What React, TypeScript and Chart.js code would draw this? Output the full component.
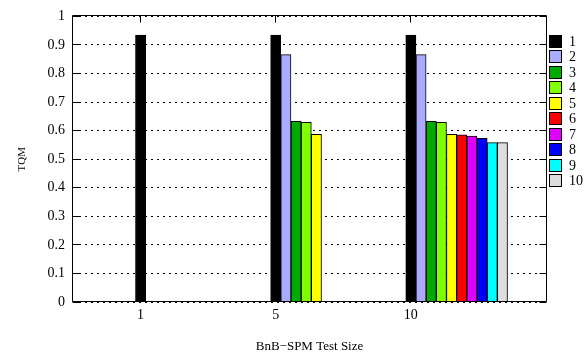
import React, { useEffect, useRef } from "react";
import { Chart, registerables } from "chart.js";

Chart.register(...registerables);

const CATEGORIES = ["1", "5", "10"];
const SERIES_LABELS = ["1", "2", "3", "4", "5", "6", "7", "8", "9", "10"];
const S1 = [0.935, 0.935, 0.935];
const S2 = [null, 0.866, 0.866];
const S3 = [null, 0.633, 0.633];
const S4 = [null, 0.629, 0.629];
const S5 = [null, 0.587, 0.587];
const S6 = [null, null, 0.585];
const S7 = [null, null, 0.581];
const S8 = [null, null, 0.573];
const S9 = [null, null, 0.558];
const S10 = [null, null, 0.558];
const SERIES = [S1, S2, S3, S4, S5, S6, S7, S8, S9, S10];
const Y_TICKS = [0, 0.1, 0.2, 0.3, 0.4, 0.5, 0.6, 0.7, 0.8, 0.9, 1];
const X_TITLE = "BnB\u2212SPM Test Size";
const Y_TITLE = "TQM";
const COLORS = [
  "#000000",
  "#aaaaff",
  "#00aa00",
  "#7fff00",
  "#ffff00",
  "#ff0000",
  "#dd00ff",
  "#0000ff",
  "#00ffff",
  "#dddddd",
];

const FONT_FAMILY = "'Liberation Serif', 'Times New Roman', serif";
const BAR_STEP = 0.0753; // horizontal step between bars within a group (axis units)

const align = (p: number) => Math.round(p - 0.5) + 0.5;

const framePlugin = {
  id: "gnuFrame",
  afterDatasetsDraw(chart: any) {
    const { ctx, chartArea: a, scales } = chart;
    const x = scales.x;
    const y = scales.y;
    const x0 = align(a.left) - 1;
    const x1 = align(a.right);
    const y0 = align(a.top) - 1;
    const y1 = align(a.bottom) - 1;
    ctx.save();
    ctx.strokeStyle = "#000";
    ctx.lineWidth = 1;
    ctx.setLineDash([]);
    ctx.beginPath();
    ctx.rect(x0, y0, x1 - x0, y1 - y0);
    Y_TICKS.forEach((v) => {
      const py = align(y.getPixelForValue(v));
      ctx.moveTo(x0, py);
      ctx.lineTo(x0 + 7, py);
      ctx.moveTo(x1, py);
      ctx.lineTo(x1 - 7, py);
    });
    CATEGORIES.forEach((_, i) => {
      const px = align(x.getPixelForValue(i));
      ctx.moveTo(px, y0);
      ctx.lineTo(px, y0 + 7);
      ctx.moveTo(px, y1);
      ctx.lineTo(px, y1 - 7);
    });
    ctx.stroke();
    ctx.restore();
  },
};

const legendPlugin = {
  id: "gnuLegend",
  afterDraw(chart: any) {
    const { ctx } = chart;
    ctx.save();
    ctx.font = `14px ${FONT_FAMILY}`;
    ctx.textBaseline = "middle";
    ctx.textAlign = "left";
    chart.data.datasets.forEach((ds: any, i: number) => {
      const top = Math.round(35 + i * 15.45);
      ctx.fillStyle = ds.backgroundColor;
      ctx.fillRect(549, top, 12, 12);
      ctx.strokeStyle = "#000";
      ctx.lineWidth = 1;
      ctx.strokeRect(549.5, top + 0.5, 12, 12);
      ctx.fillStyle = "#000";
      ctx.fillText(ds.label, 569, top + 7);
    });
    ctx.restore();
  },
};

export default function App() {
  const ref = useRef<HTMLCanvasElement | null>(null);

  useEffect(() => {
    if (!ref.current) return;
    Chart.defaults.font.family = FONT_FAMILY;
    const datasets = SERIES.map((vals, si) => ({
      label: SERIES_LABELS[si],
      data: vals
        .map((v, ci) => (v === null ? null : { x: ci + si * BAR_STEP, y: v }))
        .filter((p) => p !== null),
      backgroundColor: COLORS[si],
      borderColor: "#000",
      borderWidth: 1,
      grouped: false,
      barPercentage: 1,
      categoryPercentage: 1,
    }));

    const chart = new Chart(ref.current, {
      type: "bar",
      data: { datasets: datasets as any },
      plugins: [framePlugin, legendPlugin],
      options: {
        animation: false,
        responsive: false,
        events: [],
        layout: { padding: { left: 0, right: 40, top: 13, bottom: 0 } },
        plugins: {
          legend: { display: false },
          tooltip: { enabled: false },
        },
        scales: {
          x: {
            type: "linear",
            min: -0.5,
            max: 3,
            offset: false,
            afterBuildTicks: (s: any) => {
              s.ticks = CATEGORIES.map((_, i) => ({ value: i }));
            },
            afterFit: (s: any) => {
              s.height = 52;
            },
            ticks: {
              callback: (v: any) => CATEGORIES[v] ?? "",
              color: "#000",
              font: { size: 14, family: FONT_FAMILY },
              padding: 5,
              maxRotation: 0,
              autoSkip: false,
            },
            grid: { display: false, drawTicks: false },
            border: { display: false },
            title: {
              display: true,
              text: X_TITLE,
              color: "#000",
              font: { size: 13, family: FONT_FAMILY },
              padding: { top: 0, bottom: 0 },
            },
          },
          y: {
            type: "linear",
            min: 0,
            max: 1,
            afterBuildTicks: (s: any) => {
              s.ticks = Y_TICKS.map((v) => ({ value: v }));
            },
            afterFit: (s: any) => {
              s.width = 73;
            },
            ticks: {
              callback: (v: any) => String(v),
              color: "#000",
              font: { size: 14, family: FONT_FAMILY },
              padding: 8,
            },
            grid: { color: "#000", lineWidth: 1, drawTicks: false },
            border: { display: false, dash: [2, 4] },
            title: {
              display: true,
              text: Y_TITLE,
              color: "#000",
              font: { size: 11, family: FONT_FAMILY },
              padding: { top: 15.5, bottom: 0 },
            },
          },
        },
      },
    });
    return () => chart.destroy();
  }, []);

  return (
    <div style={{ position: "absolute", left: 0, top: 0, width: 586, height: 354, background: "#fff" }}>
      <canvas ref={ref} width={586} height={354} />
    </div>
  );
}
